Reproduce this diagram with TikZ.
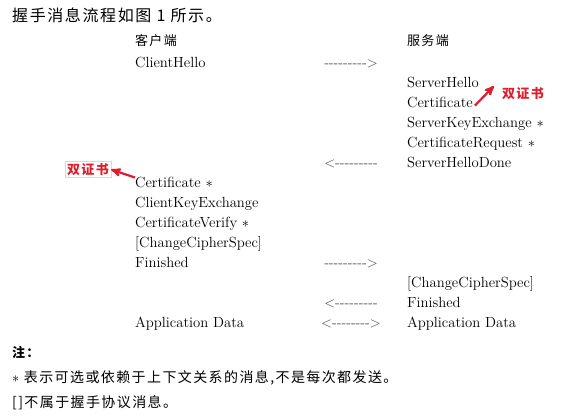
\documentclass[tikz,border=0pt]{standalone}
\usepackage{fontspec}
\newfontfamily\cjk[LetterSpace=10]{Noto Sans CJK SC}
\usetikzlibrary{positioning,arrows}
\definecolor{markred}{RGB}{222,30,45}
\newcommand\dashes{-{}-{}-{}-{}-{}-{}-{}-{}-}

\begin{document}
\begin{tikzpicture}[x=1pt,y=-1pt,>=stealth',
    msg/.style={anchor=west,inner sep=0pt,text height=10pt,text depth=3.5pt,font=\fontsize{14.7}{16}\selectfont},
    head/.style={msg,font=\fontsize{13}{15}\selectfont\cjk},
    under/.style={below=20pt of #1.west,anchor=west},
    flow/.style={inner sep=0pt,text height=10pt,text depth=3.5pt,text=black!75,font=\fontsize{14.5}{16}\selectfont},
    note/.style={anchor=west,inner sep=0pt,font=\fontsize{14}{16}\selectfont\cjk},
    cert/.style={inner sep=2pt,text=markred,font=\fontsize{13}{15}\selectfont\cjk\bfseries},
    callout/.style={->,draw=markred,line width=2.2pt}]

    \useasboundingbox (0,0) rectangle (575,418);

    % 标题
    \node[note,font=\fontsize{16}{18}\selectfont\cjk] (title) at (12,15) {握手消息流程如图 1 所示。};

    % 两端
    \node[head] (client) at (135,42.5) {客户端};
    \node[head] (server) at (407,42.5) {服务端};
    \coordinate (mid) at (351,0);

    % 客户端消息
    \node[msg] (ch)   [below=22pt of client.west,anchor=west] {ClientHello};
    \node[msg] (cc)   [below=120pt of ch.west,anchor=west]    {Certificate $\ast$};
    \node[msg] (ckx)  [under=cc]   {ClientKeyExchange};
    \node[msg] (cv)   [under=ckx]  {CertificateVerify $\ast$};
    \node[msg] (cccs) [under=cv]   {[ChangeCipherSpec]};
    \node[msg] (cfin) [under=cccs] {Finished};
    \node[msg] (cad)  [below=60pt of cfin.west,anchor=west]  {Application Data};

    % 服务端消息
    \node[msg] (sh)   [below=42pt of server.west,anchor=west] {ServerHello};
    \node[msg] (sc)   [under=sh]   {Certificate};
    \node[msg] (ske)  [under=sc]   {ServerKeyExchange $\ast$};
    \node[msg] (scr)  [under=ske]  {CertificateRequest $\ast$};
    \node[msg] (shd)  [under=scr]  {ServerHelloDone};
    \node[msg] (sccs) [below=120pt of shd.west,anchor=west] {[ChangeCipherSpec]};
    \node[msg] (sfin) [under=sccs] {Finished};
    \node[msg] (sad)  [under=sfin] {Application Data};

    % 中间的方向
    \node[flow] (f1) at (mid |- ch.west)   {\dashes$>$};
    \node[flow] (f2) at (mid |- shd.west)  {$<$\dashes};
    \node[flow] (f3) at (mid |- cfin.west) {\dashes$>$};
    \node[flow] (f4) at (mid |- sfin.west) {$<$\dashes};
    \node[flow] (f5) at (mid |- sad.west)  {$<$-{}-{}-{}-{}-{}-{}-{}-$>$};

    % 双证书标注
    \node[cert] (certR) at (523,94) {双证书};
    \coordinate (tipR) at (494,86);
    \draw[callout] ([xshift=2pt,yshift=-1pt]sc.east) -- (tipR);

    \node[cert,draw=gray!30,line width=0.6pt] (certL) at (88,169.5) {双证书};
    \draw[callout] (cc.north west) -- (certL.east);

    % 注
    \node[note,font=\fontsize{13}{15}\selectfont\cjk\bfseries] (zhu) at (12,352) {注：};
    \node[note] (n1) at (12,378) {$\ast$ 表示可选或依赖于上下文关系的消息,不是每次都发送。};
    \node[note] (n2) at (12,403) {[]不属于握手协议消息。};

\end{tikzpicture}
\end{document}
